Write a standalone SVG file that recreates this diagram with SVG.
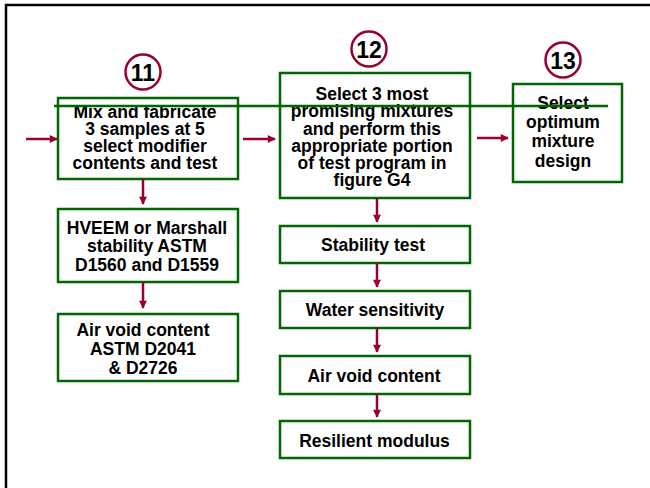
<svg xmlns="http://www.w3.org/2000/svg" width="650" height="488" viewBox="0 0 650 488">
  <style>
    .box { fill: #ffffff; stroke: #006600; stroke-width: 2.5; }
    .lbl { font-family: "Liberation Sans", Arial, sans-serif; font-weight: bold; font-size: 17.5px; fill: #000000; text-anchor: middle; }
    .num { font-family: "Liberation Sans", Arial, sans-serif; font-weight: bold; font-size: 23px; fill: #000000; text-anchor: middle; }
    .ring { fill: #ffffff; stroke: #99002b; stroke-width: 2.5; }
    .conn { stroke: #99002b; stroke-width: 2.5; fill: none; marker-end: url(#head); }
  </style>
  <defs>
    <marker id="head" viewBox="0 0 10 10" refX="9" refY="5" markerWidth="3.6" markerHeight="3.2" markerUnits="strokeWidth" orient="auto">
      <path d="M0,0 L10,5 L0,10 z" fill="#99002b"/>
    </marker>
  </defs>

  <rect width="650" height="488" fill="#ffffff"/>
  <!-- page frame (top and left edges) -->
  <path d="M6,488 L6,5 L650,5" fill="none" stroke="#000000" stroke-width="2.5"/>

  <!-- step 11 column -->
  <g id="step11">
    <circle class="ring" cx="143" cy="72" r="17.5"/>
    <text class="num" x="143" y="80.5">11</text>
  </g>
  <g id="mix-fabricate">
    <rect class="box" x="58" y="98" width="180" height="81"/>
    <text class="lbl" x="145" y="118">Mix and fabricate</text>
    <text class="lbl" x="145" y="135">3 samples at 5</text>
    <text class="lbl" x="145" y="152">select modifier</text>
    <text class="lbl" x="145" y="169">contents and test</text>
  </g>
  <g id="hveem-marshall">
    <rect class="box" x="58" y="209" width="180" height="73"/>
    <text class="lbl" x="147" y="233.5">HVEEM or Marshall</text>
    <text class="lbl" x="147" y="252">stability ASTM</text>
    <text class="lbl" x="147" y="270.5">D1560 and D1559</text>
  </g>
  <g id="air-void-astm">
    <rect class="box" x="58" y="314" width="180" height="67"/>
    <text class="lbl" x="143" y="335.5">Air void content</text>
    <text class="lbl" x="143" y="354.5">ASTM D2041</text>
    <text class="lbl" x="143" y="374">&amp; D2726</text>
  </g>

  <!-- step 12 column -->
  <g id="step12">
    <circle class="ring" cx="369" cy="49" r="17.5"/>
    <text class="num" x="369" y="57.5">12</text>
  </g>
  <g id="select-three">
    <rect class="box" x="280" y="73" width="190" height="125"/>
    <text class="lbl" x="372" y="100">Select 3 most</text>
    <text class="lbl" x="372" y="117">promising mixtures</text>
    <text class="lbl" x="372" y="134.5">and perform this</text>
    <text class="lbl" x="372" y="151.5">appropriate portion</text>
    <text class="lbl" x="372" y="168.5">of test program in</text>
    <text class="lbl" x="372" y="186">figure G4</text>
  </g>
  <g id="stability-test">
    <rect class="box" x="280" y="226" width="190" height="37"/>
    <text class="lbl" x="373" y="251">Stability test</text>
  </g>
  <g id="water-sensitivity">
    <rect class="box" x="280" y="291" width="190" height="37"/>
    <text class="lbl" x="375" y="316">Water sensitivity</text>
  </g>
  <g id="air-void-content">
    <rect class="box" x="280" y="356" width="190" height="38"/>
    <text class="lbl" x="374" y="381.5">Air void content</text>
  </g>
  <g id="resilient-modulus">
    <rect class="box" x="280" y="421" width="190" height="37"/>
    <text class="lbl" x="374.5" y="446.5">Resilient modulus</text>
  </g>

  <!-- step 13 -->
  <g id="step13">
    <circle class="ring" cx="563" cy="60" r="17.5"/>
    <text class="num" x="563" y="68.5">13</text>
  </g>
  <g id="select-optimum">
    <rect class="box" x="513" y="84" width="109" height="98"/>
    <text class="lbl" x="563" y="108.5">Select</text>
    <text class="lbl" x="563" y="127.5">optimum</text>
    <text class="lbl" x="563" y="147">mixture</text>
    <text class="lbl" x="563" y="166.5">design</text>
  </g>

  <!-- horizontal rule crossing the top boxes -->
  <line x1="54" y1="106" x2="608" y2="106" stroke="#006600" stroke-width="2.5"/>

  <g id="connectors">
    <line class="conn" x1="26" y1="139" x2="57" y2="139"/>
    <line class="conn" x1="243" y1="139" x2="275" y2="139"/>
    <line class="conn" x1="477" y1="138" x2="508" y2="138"/>
    <line class="conn" x1="143" y1="179" x2="143" y2="204"/>
    <line class="conn" x1="143" y1="282" x2="143" y2="308"/>
    <line class="conn" x1="377" y1="198" x2="377" y2="222"/>
    <line class="conn" x1="377" y1="263" x2="377" y2="287"/>
    <line class="conn" x1="377" y1="328" x2="377" y2="352"/>
    <line class="conn" x1="377" y1="394" x2="377" y2="417"/>
  </g>
</svg>
